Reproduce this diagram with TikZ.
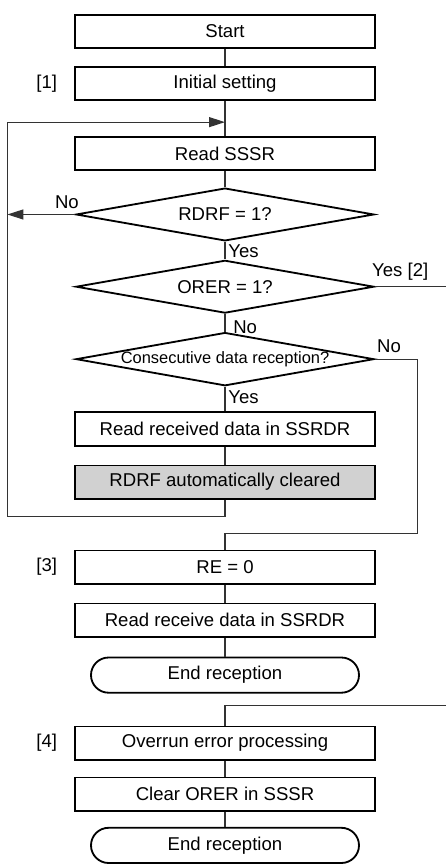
\documentclass[tikz,border=0pt]{standalone}
\usepackage{fontspec}
\setmainfont{Liberation Sans}
\usetikzlibrary{shapes.geometric, arrows.meta, positioning}

\begin{document}
\begin{tikzpicture}[
    node distance=0.425cm,
    font=\fontsize{13.2}{15}\selectfont,
    process/.style={rectangle, draw=black, line width=1.3pt, fill=white, minimum width=7.5cm, minimum height=0.83cm, inner sep=2pt},
    shaded/.style={process, fill=black!18},
    decision/.style={diamond, draw=black, line width=1.3pt, aspect=5.5, inner sep=0pt, minimum width=7.45cm, minimum height=1.32cm},
    terminal/.style={rectangle, draw=black, line width=1.3pt, rounded corners=0.44cm, minimum width=6.7cm, minimum height=0.88cm},
    tag/.style={inner sep=0pt},
    link/.style={draw=black!80, line width=0.8pt},
    arrow/.style={link, -{Triangle[length=0.4cm, width=0.25cm]}}
]
\useasboundingbox (-5.625,0.79) rectangle (5.525,-20.81);

% Main flow
\node (start) [process] {Start};
\node (init) [process, below=of start] {Initial setting};
\node (readsr) [process, below=0.875cm of init] {Read SSSR};
\node (rdrf) [decision, below=0.4cm of readsr] {RDRF = 1?};
\node (orer) [decision, below=0.44cm of rdrf] {ORER = 1?};
\node (consec) [decision, below=0.44cm of orer, font=\fontsize{11.7}{13}\selectfont] {Consecutive data reception?};
\node (readrx) [process, below=0.62cm of consec] {Read received data in SSRDR};
\node (autoclr) [shaded, below=0.45cm of readrx] {RDRF automatically cleared};

% Reception end
\node (reclr) [process, below=1.25cm of autoclr] {RE = 0};
\node (readlast) [process, below=0.45cm of reclr] {Read receive data in SSRDR};
\node (end1) [terminal, below=0.475cm of readlast] {End reception};

% Overrun error
\node (overrun) [process, below=0.8cm of end1] {Overrun error processing};
\node (clrorer) [process, below=0.4cm of overrun] {Clear ORER in SSSR};
\node (end2) [terminal, below=0.38cm of clrorer] {End reception};

% Step tags
\node (tag1) [tag, left=0.42cm of init] {[1]};
\node (tag3) [tag, left=0.42cm of reclr] {[3]};
\node (tag4) [tag, left=0.42cm of overrun] {[4]};

% Branch labels
\node (rdrfno) [tag, anchor=base east] at ([xshift=0.1cm, yshift=0.15cm]rdrf.west) {No};
\node (rdrfyes) [tag, anchor=base west] at ([xshift=0.08cm, yshift=-0.4cm]rdrf.south) {Yes};
\node (oreryes) [tag, anchor=base west] at ([xshift=-0.075cm, yshift=0.25cm]orer.east) {Yes [2]};
\node (orerno) [tag, anchor=base west] at ([xshift=0.2cm, yshift=-0.475cm]orer.south) {No};
\node (consecno) [tag, anchor=base west] at ([xshift=0.05cm, yshift=0.175cm]consec.east) {No};
\node (consecyes) [tag, anchor=base west] at ([xshift=0.08cm, yshift=-0.425cm]consec.south) {Yes};

% Helper points
\coordinate (merge) at ([yshift=-0.525cm]init.south);
\coordinate (loopbot) at ([yshift=-0.425cm]autoclr.south);
\coordinate (loopcorner) at ([xshift=-5.44cm]loopbot);
\coordinate (rightc) at ([xshift=1.075cm]consec.east);
\coordinate (rejoin) at ([yshift=0.4cm]reclr.north);
\coordinate (entry) at ([yshift=0.5cm]overrun.north);
\coordinate (edge) at (5.6,0);

% Connect main flow
\draw [link] (start) -- (init);
\draw [link] (init) -- (readsr);
\draw [link] (readsr) -- (rdrf);
\draw [link] (rdrf) -- (orer);
\draw [link] (orer) -- (consec);
\draw [link] (consec) -- (readrx);
\draw [link] (readrx) -- (autoclr);

% Loop back
\draw [arrow] (autoclr.south) -- (loopbot) -- (loopcorner) |- (merge);
\draw [arrow] (rdrf.west) -- (rdrf.west -| loopcorner);

% To reception end
\draw [link] (consec.east) -- (rightc) |- (rejoin) -- (reclr.north);
\draw [link] (reclr) -- (readlast);
\draw [link] (readlast) -- (end1);

% To overrun error
\draw [link] (orer.east) -- (orer.east -| edge);
\draw [link] (entry -| edge) -- (entry) -- (overrun.north);
\draw [link] (overrun) -- (clrorer);
\draw [link] (clrorer) -- (end2);

\end{tikzpicture}
\end{document}
